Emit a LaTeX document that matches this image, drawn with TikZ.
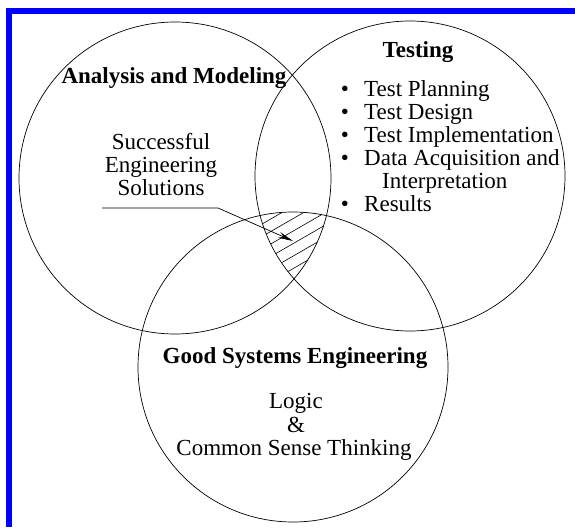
\documentclass[tikz,border=0pt]{standalone}
\usepackage{fontspec}
\setmainfont{Liberation Serif}
\usetikzlibrary{arrows.meta}
\definecolor{frameblue}{RGB}{0,0,255}
\begin{document}
\begin{tikzpicture}[x=1pt,y=-1pt,
  txt/.style={inner sep=0pt, anchor=base, font=\fontsize{23}{23}\selectfont},
  ttl/.style={txt, font=\fontsize{23}{23}\selectfont\bfseries},
  itm/.style={txt, anchor=base west},
  ring/.style={circle, draw=black, line width=0.7pt, inner sep=0pt},
  hatch/.style={line width=0.6pt}]
\useasboundingbox (0,0) rectangle (575,527);
\fill[white] (0,0) rectangle (575,527);
\fill[frameblue] (6,8) rectangle (575,14);
\fill[frameblue] (6,8) rectangle (12,527);

% circles
\node[ring, minimum size=312pt] (am) at (175,178) {};
\node[ring, minimum size=310pt] (te) at (410,176) {};
\node[ring, minimum size=310pt] (gs) at (293,367) {};

% hatching of the common region
\begin{scope}
  \clip (175,178) circle[radius=156pt];
  \clip (410,176) circle[radius=155pt];
  \clip (293,367) circle[radius=155pt];
  \foreach \k in {0,...,16} {
    \draw[hatch] (230,{180+12.5*\k}) -- (360,{180+12.5*\k-75});
  }
\end{scope}

% texts
\node[ttl] (amt) at (174,83) {Analysis and Modeling};
\node[txt] (s1) at (161,149) {Successful};
\node[txt] (s2) at (161,172) {Engineering};
\node[txt] (s3) at (161,195) {Solutions};

\node[ttl] (tet) at (418,57) {Testing};
\node[txt] (b1) at (345,96) {•};
\node[itm] (i1) at (364,96) {Test Planning};
\node[txt] (b2) at (345,119) {•};
\node[itm] (i2) at (364,119) {Test Design};
\node[txt] (b3) at (345,142) {•};
\node[itm] (i3) at (364,142) {Test Implementation};
\node[txt] (b4) at (345,165) {•};
\node[itm] (i4) at (364,165) {Data Acquisition and};
\node[itm] (i5) at (382,188) {Interpretation};
\node[txt] (b6) at (345,211) {•};
\node[itm] (i6) at (364,211) {Results};

\node[ttl] (gst) at (295,363) {Good Systems Engineering};
\node[txt] (l1) at (296,408) {Logic};
\node[txt] (l2) at (296,432) {\&};
\node[txt] (l3) at (294,455) {Common Sense Thinking};

% pointer
\coordinate (ps) at (102,208);
\coordinate (pk) at (218,208);
\coordinate (pe) at (293,241);
\draw[line width=0.7pt, -{Stealth[length=15pt,width=6pt]}] (ps) -- (pk) -- (pe);
\end{tikzpicture}
\end{document}
